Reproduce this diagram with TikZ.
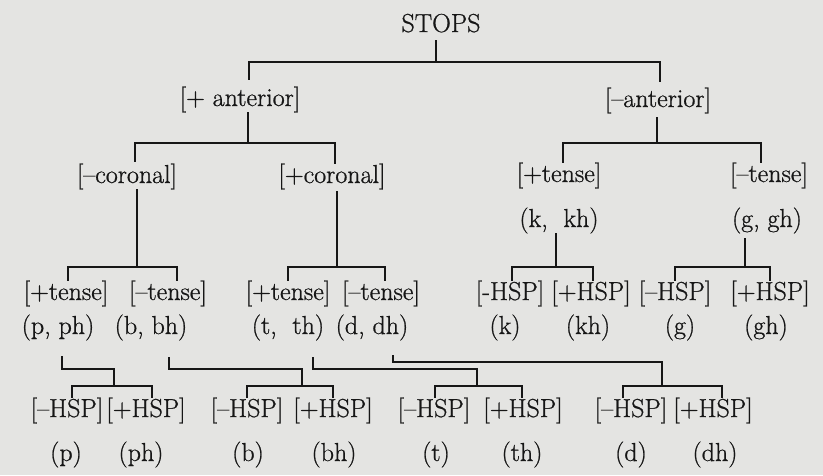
\documentclass[tikz,border=0pt]{standalone}
\usepackage{fontspec}
\newfontfamily\diagfont{Latin Modern Roman}[FakeBold=0.8,Ligatures=TeX]
\definecolor{paper}{RGB}{228,228,226}
\definecolor{ink}{RGB}{22,22,22}
\tikzset{
  lab/.style={anchor=base, inner sep=0pt, text height=19pt, text depth=6pt,
              font=\diagfont\fontsize{26}{30}\selectfont, text=ink},
  branch/.style={draw=ink, line width=1.8pt, line join=miter}
}
\begin{document}
\begin{tikzpicture}[x=1pt,y=-1pt]
\fill[paper] (0,0) rectangle (823,475);
\useasboundingbox (0,0) rectangle (823,475);

% ---- nodes ----
\node[lab] (stops) at (441,32) {STOPS};
\node[lab] (pant) at (240,106) {[+ anterior]};
\node[lab] (mant) at (658,107) {[–anterior]};
\node[lab] (mcor) at (127,183) {[–coronal]};
\node[lab] (pcor) at (332,183) {[+coronal]};
\node[lab] (ptenR) at (559,182) {[+tense]};
\node[lab] (mtenR) at (769,182) {[–tense]};
\node[lab] (kkh) at (559,227) {(k, \ kh)};
\node[lab] (ggh) at (767,227) {(g, gh)};

\node[lab] (t1) at (66,300) {[+tense]};
\node[lab] (t2) at (168,300) {[–tense]};
\node[lab] (t3) at (288,300) {[+tense]};
\node[lab] (t4) at (381,300) {[–tense]};
\node[lab] (h1) at (510,300) {[-HSP]};
\node[lab] (h2) at (591,300) {[+HSP]};
\node[lab] (h3) at (675,300) {[–HSP]};
\node[lab] (h4) at (770,300) {[+HSP]};

\node[lab] (pph) at (58,334) {(p, ph)};
\node[lab] (bbh) at (151,334) {(b, bh)};
\node[lab] (tth) at (288,334) {(t, \ th)};
\node[lab] (ddh) at (372,334) {(d, dh)};
\node[lab] (k) at (505,334) {(k)};
\node[lab] (kh) at (588,334) {(kh)};
\node[lab] (g) at (680,334) {(g)};
\node[lab] (gh) at (766,334) {(gh)};

\node[lab] (r1) at (67,417) {[–HSP]};
\node[lab] (r2) at (146,417) {[+HSP]};
\node[lab] (r3) at (247,417) {[–HSP]};
\node[lab] (r4) at (333,417) {[+HSP]};
\node[lab] (r5) at (434,417) {[–HSP]};
\node[lab] (r6) at (523,417) {[+HSP]};
\node[lab] (r7) at (631,417) {[–HSP]};
\node[lab] (r8) at (713,417) {[+HSP]};

\node[lab] (l1) at (66,461) {(p)};
\node[lab] (l2) at (141,461) {(ph)};
\node[lab] (l3) at (248,461) {(b)};
\node[lab] (l4) at (334,461) {(bh)};
\node[lab] (l5) at (436,461) {(t)};
\node[lab] (l6) at (522,461) {(th)};
\node[lab] (l7) at (631,461) {(d)};
\node[lab] (l8) at (715,461) {(dh)};

% ---- bar levels ----
\coordinate (b1) at (0,62);
\coordinate (b2) at (0,143);
\coordinate (b4) at (0,267);
\coordinate (c0) at (0,362);
\coordinate (c1) at (0,369);
\coordinate (u8) at (114,386);
\coordinate (u9) at (302,386);
\coordinate (u10) at (477,386);
\coordinate (u11) at (662,386);

% STOPS
\draw[branch] ([xshift=-5pt,yshift=-2pt]stops.south) -- ([xshift=-5pt]stops.south |- b1);
\draw[branch] ([xshift=9pt,yshift=7pt]pant.north) -- ([xshift=9pt]pant.north |- b1)
   -- ([xshift=2pt]mant.north |- b1) -- ([xshift=2pt,yshift=6pt]mant.north);
% + anterior
\draw[branch] ([xshift=8pt]pant.south) -- ([xshift=8pt]pant.south |- b2);
\draw[branch] ([xshift=8pt,yshift=2pt]mcor.north) -- ([xshift=8pt]mcor.north |- b2)
   -- ([xshift=3pt]pcor.north |- b2) -- ([xshift=3pt]pcor.north);
% - anterior
\draw[branch] ([xshift=-1pt,yshift=-4pt]mant.south) -- ([xshift=-1pt]mant.south |- b2);
\draw[branch] ([xshift=4pt]ptenR.north) -- ([xshift=4pt]ptenR.north |- b2)
   -- ([xshift=-8pt]mtenR.north |- b2) -- ([xshift=-8pt]mtenR.north);
% - coronal
\draw[branch] ([xshift=10pt]mcor.south) -- ([xshift=10pt]mcor.south |- b4);
\draw[branch] ([xshift=2pt]t1.north) -- ([xshift=2pt]t1.north |- b4)
   -- ([xshift=9pt]t2.north |- b4) -- ([xshift=9pt]t2.north);
% + coronal
\draw[branch] ([xshift=5pt,yshift=-2pt]pcor.south) -- ([xshift=5pt]pcor.south |- b4);
\draw[branch] (t3.north) -- (t3.north |- b4)
   -- ([xshift=4pt]t4.north |- b4) -- ([xshift=4pt]t4.north);
% (k, kh)
\draw[branch] ([xshift=-3pt]kkh.south) -- ([xshift=-3pt]kkh.south |- b4);
\draw[branch] ([xshift=2pt]h1.north) -- ([xshift=2pt]h1.north |- b4)
   -- ([xshift=2pt]h2.north |- b4) -- ([xshift=2pt]h2.north);
% (g, gh)
\draw[branch] ([xshift=-22pt,yshift=-5pt]ggh.south) -- ([xshift=-22pt]ggh.south |- b4);
\draw[branch] (h3.north) -- (h3.north |- b4) -- (h4.north |- b4) -- (h4.north);

% (p, ph)
\draw[branch] ([xshift=4pt,yshift=-16pt]pph.south) -- ([xshift=4pt]pph.south |- c1)
   -- (u8 |- c1) -- (u8);
\draw[branch] ([xshift=5pt]r1.north) -- ([xshift=5pt]r1.north |- u8)
   -- ([xshift=6pt]r2.north |- u8) -- ([xshift=6pt]r2.north);
% (b, bh)
\draw[branch] ([xshift=18pt,yshift=-17pt]bbh.south) -- ([xshift=18pt]bbh.south |- c1)
   -- (u9 |- c1) -- (u9);
\draw[branch] (r3.north) -- (r3.north |- u9) -- (r4.north |- u9) -- (r4.north);
% (t, th)
\draw[branch] ([xshift=25pt,yshift=-17pt]tth.south) -- ([xshift=25pt]tth.south |- c1)
   -- (u10 |- c1) -- (u10);
\draw[branch] ([xshift=1pt]r5.north) -- ([xshift=1pt]r5.north |- u10)
   -- ([xshift=-1pt]r6.north |- u10) -- ([xshift=-1pt]r6.north);
% (d, dh)
\draw[branch] ([xshift=21pt,yshift=-15pt]ddh.south) -- ([xshift=21pt]ddh.south |- c0)
   -- (u11 |- c0) -- (u11);
\draw[branch] ([xshift=-8pt]r7.north) -- ([xshift=-8pt]r7.north |- u11)
   -- ([xshift=9pt]r8.north |- u11) -- ([xshift=9pt]r8.north);
\end{tikzpicture}
\end{document}
